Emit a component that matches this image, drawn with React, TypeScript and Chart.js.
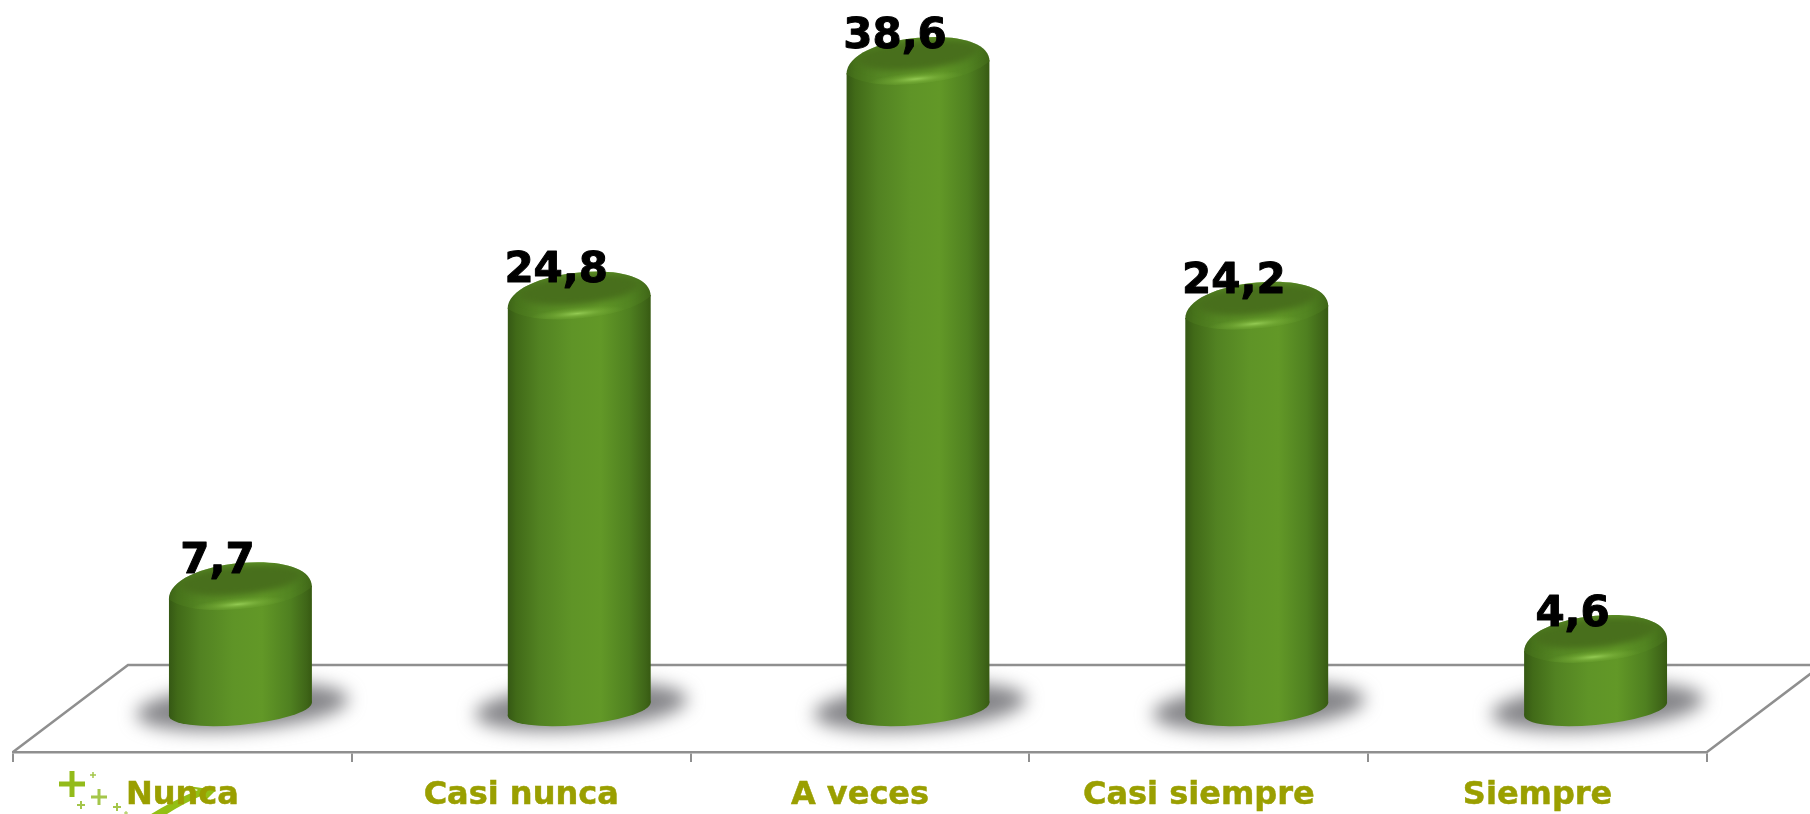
import React, { useEffect, useRef } from "react";
import { Chart, registerables, BarElement } from "chart.js";

Chart.register(...registerables);

const categories = ["Nunca", "Casi nunca", "A veces", "Casi siempre", "Siempre"];
const values = [7.7, 24.8, 38.6, 24.2, 4.6];
const valueLabels = ["7,7", "24,8", "38,6", "24,2", "4,6"];

const FONT = "'DejaVu Sans', sans-serif";
const DEPTH_X = 58;
const DEPTH_Y = -43;
const SHEAR = -0.09;
const BAR_W = 143;

function bodyGradient(ctx: CanvasRenderingContext2D, cx: number, w: number) {
  const c = Number.isFinite(cx) ? cx : 0;
  const g = ctx.createLinearGradient(c - w / 2, 0, c + w / 2, 0);
  g.addColorStop(0, "#355814");
  g.addColorStop(0.06, "#416a18");
  g.addColorStop(0.22, "#528222");
  g.addColorStop(0.45, "#5f9427");
  g.addColorStop(0.65, "#629827");
  g.addColorStop(0.85, "#4f8020");
  g.addColorStop(0.96, "#3f6618");
  g.addColorStop(1, "#375a12");
  return g;
}

function drawCylinder(this: any, ctx: CanvasRenderingContext2D) {
  const el = this;
  const { x, y, base } = el;
  const w = BAR_W;
  const capY = y + 8;
  const botY = base;
  ctx.save();
  // shadow
  ctx.save();
  ctx.filter = "blur(9px)";
  ctx.transform(1, SHEAR * 0.8, 0, 1, 0, -SHEAR * 0.8 * x);
  ctx.fillStyle = "rgba(112,112,116,0.85)";
  ctx.beginPath();
  ctx.ellipse(x + 2, botY - 2, 106, 23, 0, 0, Math.PI * 2);
  ctx.fill();
  ctx.restore();

  ctx.transform(1, SHEAR, 0, 1, 0, -SHEAR * x);
  const rx = w / 2;
  // bottom
  ctx.fillStyle = bodyGradient(ctx, x, w);
  ctx.beginPath();
  ctx.ellipse(x, botY, rx, 16, 0, 0, Math.PI * 2);
  ctx.fill();
  // body: the library's own bar, clipped between cap and bottom
  ctx.save();
  ctx.beginPath();
  ctx.rect(x - rx, capY + 6, w, botY - capY - 6);
  ctx.clip();
  (BarElement.prototype as any).draw.call(el, ctx);
  ctx.restore();
  // cap rim with a rounded shoulder
  ctx.save();
  ctx.beginPath();
  ctx.moveTo(x - rx, capY + 7);
  ctx.bezierCurveTo(x - rx, capY - 12, x - rx * 0.55, capY - 23, x, capY - 23);
  ctx.bezierCurveTo(x + rx * 0.55, capY - 23, x + rx, capY - 12, x + rx, capY + 7);
  ctx.bezierCurveTo(x + rx * 0.8, capY + 18, x + rx * 0.45, capY + 23, x, capY + 23);
  ctx.bezierCurveTo(x - rx * 0.45, capY + 23, x - rx * 0.8, capY + 18, x - rx, capY + 7);
  ctx.closePath();
  ctx.clip();
  ctx.fillStyle = bodyGradient(ctx, x, w);
  ctx.fillRect(x - rx - 1, capY - 30, w + 2, 60);
  ctx.fillStyle = "rgba(96,150,40,0.2)";
  ctx.fillRect(x - rx - 1, capY - 30, w + 2, 60);
  // highlight on the front rim
  ctx.save();
  ctx.translate(x - 2, capY + 18);
  ctx.scale(1, 0.14);
  const h = ctx.createRadialGradient(0, 0, 0, 0, 0, 48);
  h.addColorStop(0, "rgba(150,205,85,0.95)");
  h.addColorStop(0.5, "rgba(125,180,60,0.45)");
  h.addColorStop(1, "rgba(110,165,50,0)");
  ctx.fillStyle = h;
  ctx.beginPath();
  ctx.arc(0, 0, 48, 0, Math.PI * 2);
  ctx.fill();
  ctx.restore();
  // inner top
  ctx.filter = "blur(3px)";
  ctx.fillStyle = "#486f1c";
  ctx.beginPath();
  ctx.ellipse(x, capY - 6, rx - 11, 15, 0, 0, Math.PI * 2);
  ctx.fill();
  ctx.restore();
  ctx.restore();
}

const plus = (ctx: CanvasRenderingContext2D, x: number, y: number, a: number, t: number) => {
  ctx.fillRect(x - a, y - t / 2, a * 2, t);
  ctx.fillRect(x - t / 2, y - a, t, a * 2);
};

const scenePlugin = {
  id: "scene",
  beforeDraw(chart: any) {
    const { ctx } = chart;
    ctx.save();
    // floor back and side edges
    ctx.strokeStyle = "#8f8f8f";
    ctx.lineWidth = 2.5;
    ctx.beginPath();
    ctx.moveTo(13, 752);
    ctx.lineTo(128, 665);
    ctx.lineTo(1810, 665);
    ctx.moveTo(1707, 752);
    ctx.lineTo(1822, 665);
    ctx.stroke();
    // corner ornament
    ctx.fillStyle = "#93bb1a";
    plus(ctx, 72, 784, 13, 5);
    ctx.fillStyle = "#a4c64a";
    plus(ctx, 99, 797, 8, 3);
    plus(ctx, 81, 805, 4, 2);
    plus(ctx, 93, 775, 3, 1.5);
    plus(ctx, 117, 807, 4, 2);
    plus(ctx, 126, 813, 2, 1);
    ctx.fillStyle = "#93bf14";
    ctx.beginPath();
    ctx.moveTo(148, 816);
    ctx.quadraticCurveTo(170, 802, 198, 790);
    ctx.lineTo(188, 786);
    ctx.lineTo(216, 790);
    ctx.lineTo(205, 801);
    ctx.lineTo(203, 795);
    ctx.quadraticCurveTo(182, 804, 164, 816);
    ctx.closePath();
    ctx.fill();
    ctx.restore();
  },
  afterDatasetsUpdate(chart: any) {
    chart.getDatasetMeta(0).data.forEach((el: any) => {
      el.draw = drawCylinder;
    });
  },
  beforeDatasetsDraw(chart: any) {
    chart.ctx.save();
    chart.ctx.translate(DEPTH_X, DEPTH_Y);
  },
  afterDatasetsDraw(chart: any) {
    const { ctx } = chart;
    // value labels, still in the depth-shifted space
    ctx.fillStyle = "#000";
    ctx.strokeStyle = "#000";
    ctx.lineWidth = 1;
    ctx.lineJoin = "round";
    ctx.font = `bold 42px ${FONT}`;
    ctx.textAlign = "center";
    ctx.textBaseline = "alphabetic";
    chart.getDatasetMeta(0).data.forEach((el: any, i: number) => {
      ctx.strokeText(valueLabels[i], el.x - 23, el.y - 5);
      ctx.fillText(valueLabels[i], el.x - 23, el.y - 5);
    });
    ctx.restore();
  },
};

export default function App() {
  const ref = useRef<HTMLCanvasElement>(null);
  useEffect(() => {
    document.body.style.margin = "0";
    document.body.style.overflow = "hidden";
    const chart = new Chart(ref.current as HTMLCanvasElement, {
      type: "bar",
      data: {
        labels: categories,
        datasets: [
          {
            data: values,
            barThickness: BAR_W,
            borderWidth: 0,
            clip: false,
            backgroundColor: (c: any) => {
              const sx = c.chart.scales.x;
              const cx = sx ? sx.getPixelForValue(c.dataIndex) : 0;
              return bodyGradient(c.chart.ctx, cx, BAR_W);
            },
          },
        ],
      },
      options: {
        responsive: false,
        animation: false,
        layout: { padding: { left: 13, right: 103, top: 72, bottom: 0 } },
        plugins: { legend: { display: false }, tooltip: { enabled: false } },
        scales: {
          x: {
            afterFit: (s: any) => {
              s.height = 62;
            },
            border: { color: "#8f8f8f", width: 2.5 },
            grid: { drawOnChartArea: false, color: "#8f8f8f", tickLength: 10, lineWidth: 2 },
            ticks: {
              color: "#9a9f00",
              font: { family: FONT, size: 32, weight: "bold" },
              textStrokeColor: "#9a9f00",
              textStrokeWidth: 0.5,
              padding: 14,
              maxRotation: 0,
              autoSkip: false,
            },
          },
          y: { display: false, min: 0, max: 40 },
        },
      },
      plugins: [scenePlugin],
    } as any);
    return () => chart.destroy();
  }, []);
  return <canvas ref={ref} width={1810} height={814} style={{ display: "block" }} />;
}
